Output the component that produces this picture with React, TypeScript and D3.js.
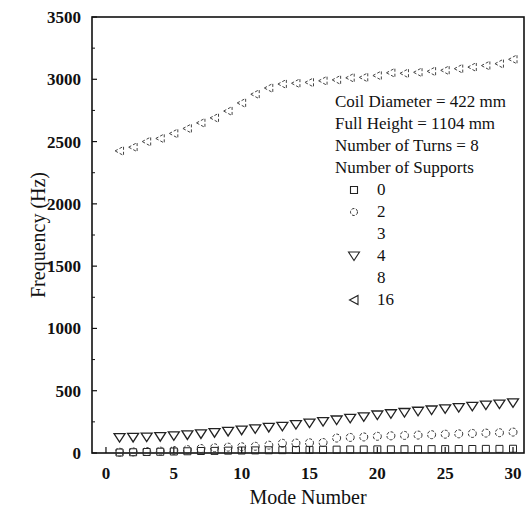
import { useEffect, useRef } from "react";
import * as d3 from "d3";

// mode numbers 1..30
const modes = [1, 2, 3, 4, 5, 6, 7, 8, 9, 10, 11, 12, 13, 14, 15, 16, 17, 18, 19, 20, 21, 22, 23, 24, 25, 26, 27, 28, 29, 30];

// frequencies (Hz), one array per number of supports
const supports0 = [4, 6, 8, 10, 12, 14, 16, 17, 19, 20, 21, 22, 23, 24, 25, 26, 27, 28, 28, 29, 29, 30, 30, 31, 31, 32, 32, 33, 33, 34];
const supports2 = [6, 9, 12, 15, 20, 27, 36, 42, 47, 50, 54, 63, 78, 80, 82, 84, 120, 125, 129, 134, 138, 141, 144, 147, 151, 154, 157, 160, 163, 168];
const supports4 = [123, 125, 128, 131, 138, 145, 153, 163, 173, 183, 194, 205, 214, 228, 240, 252, 265, 278, 290, 305, 315, 325, 335, 345, 355, 365, 375, 385, 393, 402];
const supports16 = [2425, 2455, 2500, 2525, 2565, 2605, 2650, 2690, 2745, 2810, 2880, 2930, 2962, 2968, 2975, 2988, 2995, 3012, 3015, 3030, 3052, 3048, 3056, 3064, 3072, 3085, 3098, 3110, 3125, 3160];

const yTicks = [0, 500, 1000, 1500, 2000, 2500, 3000, 3500];
const xTicks = [0, 5, 10, 15, 20, 25, 30];

const legendLines = ["Coil Diameter = 422 mm", "Full Height = 1104 mm", "Number of Turns = 8", "Number of Supports"];
const legendLabels = ["0", "2", "3", "4", "8", "16"];
const legendMarkers = ["square", "circle", "", "down", "", "left"];

const markerPath = (kind: string) => {
  if (kind === "square") return "M-3.5,-3.5H3.5V3.5H-3.5Z";
  if (kind === "down") return "M-5.5,-4L5.5,-4L0,4.5Z";
  if (kind === "left") return "M-4.5,0L4,-4.5L4,4.5Z";
  return "";
};

export default function App() {
  const svgRef = useRef<SVGSVGElement>(null);

  useEffect(() => {
    if (!svgRef.current) return;
    const svg = d3.select(svgRef.current);
    svg.selectAll("*").remove();

    const left = 92, right = 524, top = 17, bottom = 453;
    const ink = "#111";

    const x = d3.scaleLinear().domain([-1.03, 30.81]).range([left, right]);
    const y = d3.scaleLinear().domain([0, 3500]).range([bottom, top]);

    // frame
    svg.append("rect")
      .attr("x", left).attr("y", top)
      .attr("width", right - left).attr("height", bottom - top)
      .attr("fill", "none").attr("stroke", ink).attr("stroke-width", 1.6);

    // y ticks (inward), minor every 250
    const yMinor = d3.range(250, 3500, 500);
    svg.selectAll(".ymaj").data(yTicks).enter().append("line")
      .attr("x1", left).attr("x2", left + 5)
      .attr("y1", d => y(d)).attr("y2", d => y(d))
      .attr("stroke", ink).attr("stroke-width", 1.2);
    svg.selectAll(".ymin").data(yMinor).enter().append("line")
      .attr("x1", left).attr("x2", left + 3)
      .attr("y1", d => y(d)).attr("y2", d => y(d))
      .attr("stroke", ink).attr("stroke-width", 1);
    svg.selectAll(".ylab").data(yTicks).enter().append("text")
      .attr("x", left - 11).attr("y", d => y(d) + 6)
      .attr("text-anchor", "end")
      .attr("font-size", 17).attr("font-weight", "bold")
      .attr("fill", ink)
      .text(d => d);

    // x ticks (inward)
    svg.selectAll(".xmaj").data(xTicks).enter().append("line")
      .attr("x1", d => x(d)).attr("x2", d => x(d))
      .attr("y1", bottom).attr("y2", bottom - 6)
      .attr("stroke", ink).attr("stroke-width", 1.2);
    svg.selectAll(".xlab").data(xTicks).enter().append("text")
      .attr("x", d => x(d)).attr("y", 479)
      .attr("text-anchor", "middle")
      .attr("font-size", 17).attr("font-weight", "bold")
      .attr("fill", ink)
      .text(d => d);

    // axis titles
    svg.append("text")
      .attr("transform", `translate(45,${(top + bottom) / 2}) rotate(-90)`)
      .attr("text-anchor", "middle")
      .attr("font-size", 20)
      .attr("fill", ink)
      .text("Frequency (Hz)");
    svg.append("text")
      .attr("x", (left + right) / 2).attr("y", 504)
      .attr("text-anchor", "middle")
      .attr("font-size", 20)
      .attr("fill", ink)
      .text("Mode Number");

    // series
    const series = [
      { values: supports0, kind: "square" },
      { values: supports2, kind: "circle" },
      { values: supports4, kind: "down" },
      { values: supports16, kind: "left" },
    ];
    series.forEach(s => {
      const g = svg.append("g");
      const pts = modes.map((m, i) => ({ m, v: s.values[i] }));
      if (s.kind === "circle") {
        g.selectAll("circle").data(pts).enter().append("circle")
          .attr("cx", d => x(d.m)).attr("cy", d => y(d.v)).attr("r", 4)
          .attr("fill", "none").attr("stroke", "#333").attr("stroke-width", 1)
          .attr("stroke-dasharray", "3,1.5");
      } else {
        g.selectAll("path").data(pts).enter().append("path")
          .attr("d", markerPath(s.kind))
          .attr("transform", d => `translate(${x(d.m)},${y(d.v)})`)
          .attr("fill", "none").attr("stroke", s.kind === "left" ? "#444" : "#222")
          .attr("stroke-width", s.kind === "down" ? 1.3 : 1)
          .attr("stroke-dasharray", s.kind === "left" ? "3,2" : null);
      }
    });

    // legend
    const lx = 335, ly = 107, step = 22;
    legendLines.forEach((t, i) => {
      svg.append("text")
        .attr("x", lx).attr("y", ly + i * step)
        .attr("font-size", 17)
        .attr("fill", ink)
        .text(t);
    });
    legendLabels.forEach((t, i) => {
      const cy = ly + (legendLines.length + i) * step;
      svg.append("text")
        .attr("x", 377).attr("y", cy)
        .attr("font-size", 17)
        .attr("fill", ink)
        .text(t);
      const kind = legendMarkers[i];
      const my = cy - 5;
      if (kind === "circle") {
        svg.append("circle").attr("cx", 354).attr("cy", my).attr("r", 3.5)
          .attr("fill", "none").attr("stroke", "#333").attr("stroke-dasharray", "3,1.5");
      } else if (kind) {
        svg.append("path").attr("d", markerPath(kind))
          .attr("transform", `translate(354,${my})`)
          .attr("fill", "none").attr("stroke", "#222").attr("stroke-width", 1.1);
      }
    });
  }, []);

  return (
    <svg
      ref={svgRef}
      width={529}
      height={518}
      fontFamily="Liberation Serif, DejaVu Serif, serif"
      style={{ position: "absolute", left: 0, top: 0, background: "#fff" }}
    />
  );
}
